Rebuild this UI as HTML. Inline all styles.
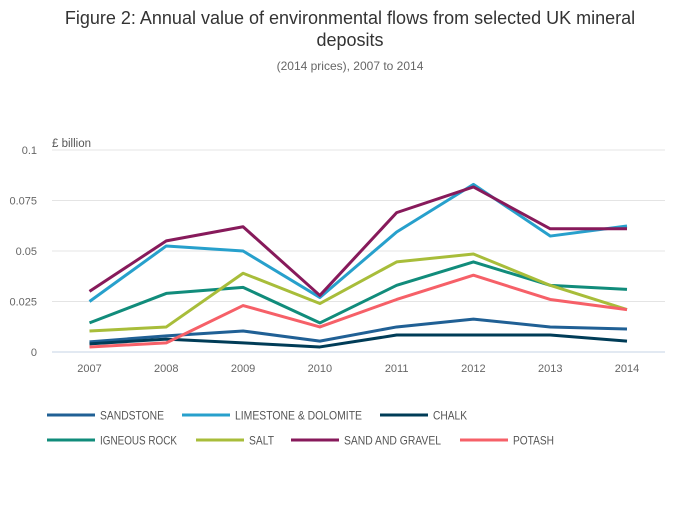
<!DOCTYPE html>
<html><head><meta charset="utf-8"><style>
body{margin:0;background:#fff;font-family:"Liberation Sans",sans-serif}
</style></head><body>
<svg width="700" height="502" id="c" style="font-family:'Liberation Sans',sans-serif">
<text x="350" y="24" text-anchor="middle" font-size="18" fill="#333">Figure 2: Annual value of environmental flows from selected UK mineral</text>
<text x="350" y="46" text-anchor="middle" font-size="18" fill="#333">deposits</text>
<text x="350" y="70" text-anchor="middle" font-size="12" fill="#666">(2014 prices), 2007 to 2014</text>
<text x="52" y="147" font-size="11.5" fill="#555">£ billion</text>
<g id="grid"></g><g id="series"></g><g id="legend"></g>
</svg>
<script>
const years=["2007","2008","2009","2010","2011","2012","2013","2014"];
const yTicks=[0,0.025,0.05,0.075,0.1];
const yTickLabels=["0","0.025","0.05","0.075","0.1"];
const seriesNames=["SANDSTONE","LIMESTONE & DOLOMITE","CHALK","IGNEOUS ROCK","SALT","SAND AND GRAVEL","POTASH"];
const seriesColors=["#206095","#27a0cc","#003c57","#118c7b","#a8bd3a","#871a5b","#f66068"];
const sandstone=[0.005,0.008,0.0104,0.0054,0.0124,0.0163,0.0124,0.0114];
const limestone=[0.025,0.0525,0.050,0.027,0.0594,0.083,0.0574,0.0624];
const chalk=[0.004,0.0064,0.0045,0.0025,0.0084,0.0084,0.0084,0.0054];
const igneous=[0.0144,0.029,0.032,0.0144,0.033,0.0446,0.033,0.031];
const salt=[0.0104,0.0124,0.039,0.024,0.0446,0.0485,0.033,0.021];
const sandGravel=[0.030,0.055,0.062,0.028,0.069,0.0817,0.061,0.061];
const potash=[0.0025,0.0045,0.023,0.0124,0.026,0.038,0.026,0.021];
const allSeries=[sandstone,limestone,chalk,igneous,salt,sandGravel,potash];
const NS="http://www.w3.org/2000/svg";
function xs(i){return 89.5+i*(627-89.5)/(years.length-1);}
function ys(v){return 352-v*(352-150)/0.1;}
function mk(t,a,p){const e=document.createElementNS(NS,t);for(const k in a)e.setAttribute(k,a[k]);p.appendChild(e);return e;}
const grid=document.getElementById('grid');
yTicks.forEach((v,i)=>{
 const l=mk('line',{x1:52,x2:665,y1:ys(v),y2:ys(v),stroke:i==0?'#c6d3e6':'#e4e4e4','stroke-width':1},grid);
 
 
 const t=mk('text',{x:37,y:ys(v)+4,'text-anchor':'end','font-size':11,fill:'#666'},grid);t.textContent=yTickLabels[i];
 
 
});
years.forEach((y,i)=>{
 const t=mk('text',{x:xs(i),y:372,'text-anchor':'middle','font-size':11,fill:'#666'},grid);t.textContent=y;
 
 
});
const sg=document.getElementById('series');
allSeries.forEach((s,k)=>{
 const p=mk('polyline',{points:s.map((v,i)=>xs(i)+','+ys(v)).join(' '),fill:'none',stroke:seriesColors[k],'stroke-width':3,'stroke-linejoin':'round'},sg);
 
 
});
const lg=document.getElementById('legend');
const legendPos=[[47,415,64],[182,415,127],[380,415,34],[47,440,77],[196,440,25],[291,440,97],[460,440,41]];
seriesNames.forEach((n,k)=>{
 const x=legendPos[k][0],y=legendPos[k][1];
 const g=mk('g',{},lg);
 
 
 mk('line',{x1:x,x2:x+48,y1:y,y2:y,stroke:seriesColors[k],'stroke-width':3},g);
 const t=mk('text',{x:x+53,y:y+4.5,'font-size':12,fill:'#555',textLength:legendPos[k][2],lengthAdjust:'spacingAndGlyphs'},g);t.textContent=n;
});
</script>
</body></html>
